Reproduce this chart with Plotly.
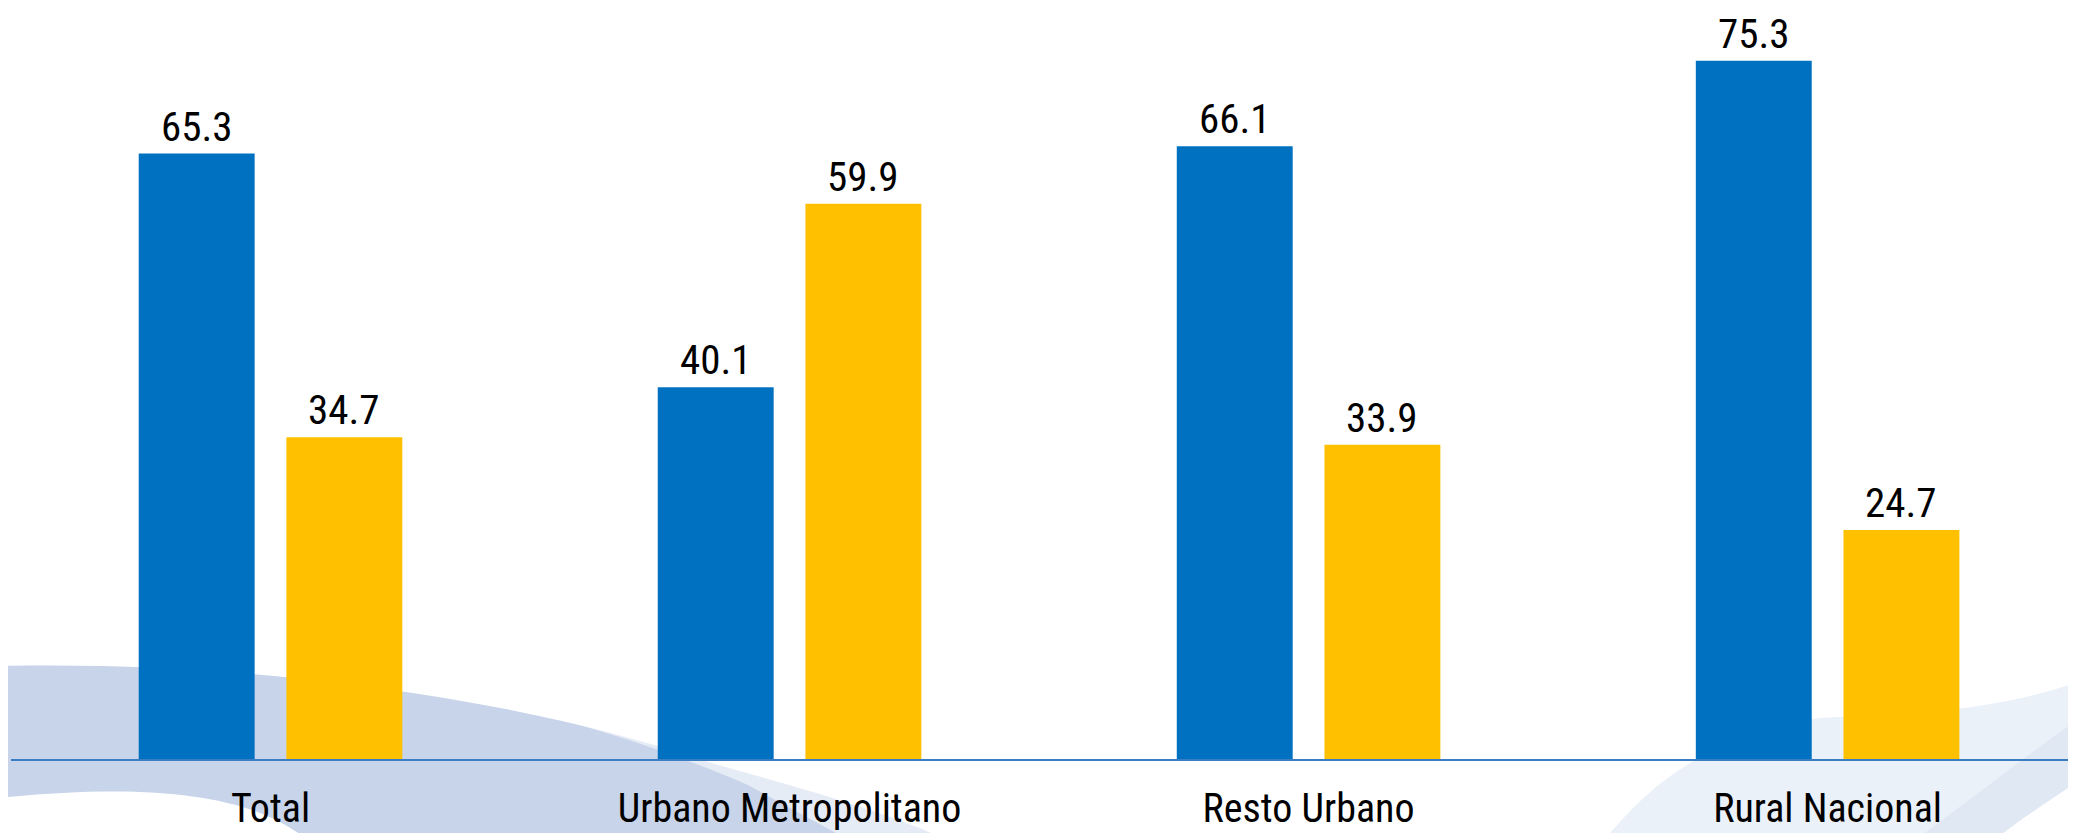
import plotly.graph_objects as go

categories = ["Total", "Urbano Metropolitano", "Resto Urbano", "Rural Nacional"]
serie_azul = [65.3, 40.1, 66.1, 75.3]
serie_amarilla = [34.7, 59.9, 33.9, 24.7]

W, H = 2076, 833
ML, MR, MT, MB = 3, 0, 0, 82
X_RANGE = [-0.5, 3.494]
Y_RANGE = [0, 81.0]
BARGAP, GROUPGAP = 0.431, 0.215
FONT = "Roboto Condensed, Liberation Sans Narrow, Arial Narrow, sans-serif"
COLORS = ["#0070C0", "#FFC000"]

fig = go.Figure()
for vals, col in zip([serie_azul, serie_amarilla], COLORS):
    fig.add_trace(go.Bar(x=categories, y=vals, marker_color=col,
                         marker_line_width=0, showlegend=False, hoverinfo="x+y"))

ph = H - MT - MB
pw = W - ML - MR
unit_px = pw / (X_RANGE[1] - X_RANGE[0])
slot_px = unit_px * (1 - BARGAP) / 2
offsets = [-slot_px / 2, slot_px / 2]

# value labels above bars
for vals, dx in zip([serie_azul, serie_amarilla], offsets):
    for cat, v in zip(categories, vals):
        fig.add_annotation(x=cat, y=v, xref="x", yref="y", text=f"{v:.1f}",
                           showarrow=False, xshift=dx, yanchor="bottom", yshift=2,
                           borderpad=0,
                           font=dict(family=FONT, size=41, color="#000000"))

def px(x):
    return (x - ML) / pw

def py(y):
    return (H - MB - y) / ph

def path(cmds):
    out = []
    for c in cmds:
        if isinstance(c, str):
            out.append(c)
        else:
            out.append(f"{px(c[0]):.4f},{py(c[1] - 8):.4f}")
    return " ".join(out)

# decorative background swooshes (page pixel coordinates)
left_shape = path(["M", (-10, 666), "C", (250, 660), (520, 700), (700, 762),
                   "C", (800, 790), (890, 815), (950, 845),
                   "L", (305, 845), "C", (250, 795), (150, 782), (-10, 798), "Z"])
fig.add_shape(type="path", path=left_shape, xref="paper", yref="paper",
              fillcolor="#C8D4EA", line=dict(width=0), layer="below")
fade_shape = path(["M", (400, 688), "C", (520, 705), (640, 742), (740, 785),
                   "L", (850, 845), "L", (950, 845),
                   "C", (880, 805), (780, 775), (700, 762),
                   "C", (620, 735), (520, 705), (400, 688), "Z"])
fig.add_shape(type="path", path=fade_shape, xref="paper", yref="paper",
              fillcolor="rgba(255,255,255,0.55)", line=dict(width=0), layer="below")
right_shape = path(["M", (1592, 845), "C", (1630, 800), (1680, 740), (1812, 718),
                    "C", (1900, 714), (2000, 712), (2090, 674),
                    "L", (2090, 768), "C", (2050, 795), (2010, 820), (1980, 845), "Z"])
fig.add_shape(type="path", path=right_shape, xref="paper", yref="paper",
              fillcolor="#EBF1F9", line=dict(width=0), layer="below")
right_band = path(["M", (1900, 845), "C", (1970, 795), (2030, 745), (2090, 706),
                   "L", (2090, 768), "C", (2050, 795), (2010, 820), (1980, 845), "Z"])
fig.add_shape(type="path", path=right_band, xref="paper", yref="paper",
              fillcolor="#E0E8F4", line=dict(width=0), layer="below")

fig.update_layout(
    width=W, height=H,
    margin=dict(l=ML, r=MR, t=MT, b=MB, pad=0),
    paper_bgcolor="#FFFFFF", plot_bgcolor="rgba(0,0,0,0)",
    barmode="group", bargap=BARGAP, bargroupgap=GROUPGAP,
    font=dict(family=FONT, color="#000000"),
    xaxis=dict(range=X_RANGE, showline=True, linecolor="#3A7DC2", linewidth=2,
               showgrid=False, zeroline=False, ticks="", ticklabelstandoff=13,
               tickfont=dict(size=40, color="#000000", family=FONT),
               fixedrange=True),
    yaxis=dict(range=Y_RANGE, visible=False, showgrid=False, zeroline=False,
               fixedrange=True),
)

fig.write_html("out.html")
